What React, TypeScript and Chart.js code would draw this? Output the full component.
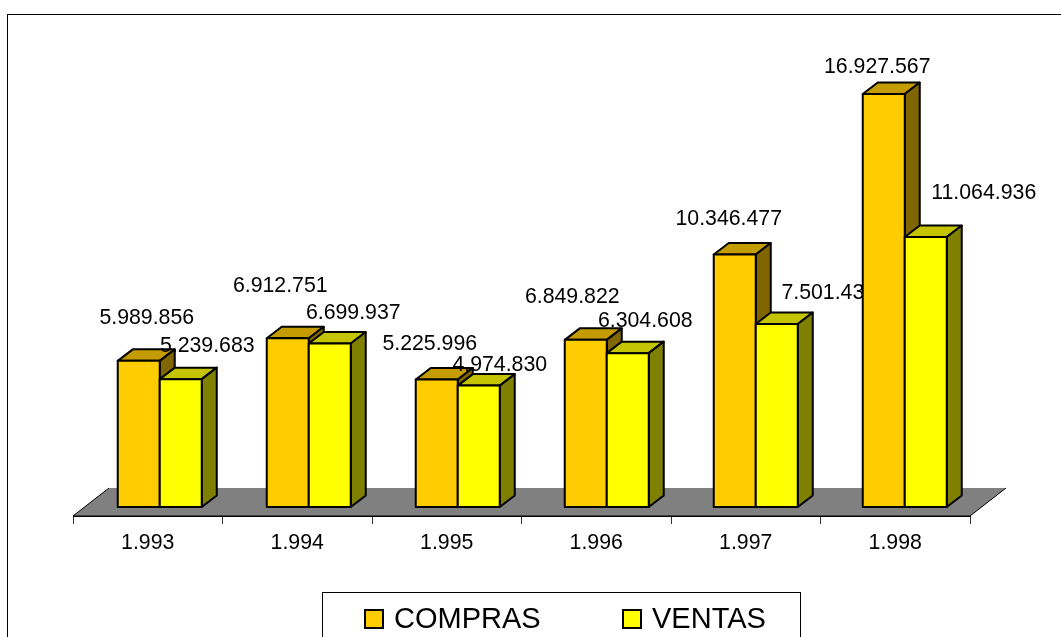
import React, { useEffect, useRef } from "react";
import { Chart, registerables } from "chart.js";

Chart.register(...registerables);

const categories = ["1.993", "1.994", "1.995", "1.996", "1.997", "1.998"];
const compras = [5989856, 6912751, 5225996, 6849822, 10346477, 16927567];
const ventas = [5239683, 6699937, 4974830, 6304608, 7501437, 11064936];

// Hand-placed data label offsets in the source (dx from bar centre, dy from bar top)
const comprasLabelDx = [8, -7.5, -7, -13.5, -6, -6.5];
const comprasLabelDy = [-43, -52, -35, -43, -35, -27];
const ventasLabelDx = [26.5, 23.5, 21, 17.5, 52, 58];
const ventasLabelDy = [-33, -30, -20, -32, -31, -44];

const FONT = '"Liberation Sans", Arial, sans-serif';
const DEPTH_X = 15;
const DEPTH_Y = 11.5;
const barShift = (i: number) => 12 - 0.5 * i;

const palette = [
  { front: "#FFCC00", top: "#C49C00", side: "#806600" },
  { front: "#FFFF00", top: "#C4C400", side: "#808000" },
];

const fmt = (v: number) => String(v).replace(/\B(?=(\d{3})+(?!\d))/g, ".");

const poly = (ctx: CanvasRenderingContext2D, pts: number[][], fill: string) => {
  ctx.beginPath();
  pts.forEach((p, i) => (i ? ctx.lineTo(p[0], p[1]) : ctx.moveTo(p[0], p[1])));
  ctx.closePath();
  ctx.fillStyle = fill;
  ctx.fill();
  ctx.stroke();
};

const scene3d = {
  id: "scene3d",
  beforeDraw(chart: any) {
    const { ctx } = chart;
    ctx.save();
    ctx.fillStyle = "#fff";
    ctx.fillRect(0, 0, chart.width, chart.height);
    ctx.strokeStyle = "#000";
    ctx.lineWidth = 1;
    ctx.strokeRect(7.5, 14.5, 1200, 800);
    ctx.restore();
  },
  beforeDatasetsDraw(chart: any) {
    const { ctx, chartArea } = chart;
    const { left, right, bottom } = chartArea;
    const dx = 36;
    const dy = 28;
    ctx.save();
    ctx.lineJoin = "round";
    ctx.strokeStyle = "#000";
    ctx.lineWidth = 1;
    ctx.beginPath();
    ctx.moveTo(left, bottom);
    ctx.lineTo(right, bottom);
    ctx.lineTo(right + dx, bottom - dy);
    ctx.lineTo(left + dx, bottom - dy);
    ctx.closePath();
    ctx.fillStyle = "#808080";
    ctx.fill();
    ctx.beginPath();
    ctx.moveTo(left + dx, bottom - dy);
    ctx.lineTo(left, bottom);
    ctx.lineTo(right, bottom);
    ctx.lineTo(right + dx, bottom - dy);
    ctx.stroke();

    const metas = [chart.getDatasetMeta(0), chart.getDatasetMeta(1)];
    ctx.font = `21.3px ${FONT}`;
    ctx.textAlign = "center";
    ctx.textBaseline = "middle";
    categories.forEach((_, i) => {
      const shift = barShift(i);
      metas.forEach((meta, d) => {
        const el = meta.data[i];
        const c = palette[d];
        const w = el.width;
        const x0 = el.x - w / 2 + shift;
        const x1 = x0 + w;
        const yT = el.y;
        const yB = el.base;
        ctx.lineWidth = 2;
        ctx.strokeStyle = "#000";
        poly(ctx, [[x0, yT], [x1, yT], [x1 + DEPTH_X, yT - DEPTH_Y], [x0 + DEPTH_X, yT - DEPTH_Y]], c.top);
        poly(ctx, [[x1, yT], [x1 + DEPTH_X, yT - DEPTH_Y], [x1 + DEPTH_X, yB - DEPTH_Y], [x1, yB]], c.side);
        ctx.save();
        ctx.translate(shift, 0);
        el.draw(ctx);
        ctx.restore();
        ctx.strokeRect(x0, yT, w, yB - yT);
      });
      metas.forEach((meta, d) => {
        const el = meta.data[i];
        const vals = d === 0 ? compras : ventas;
        const lx = d === 0 ? comprasLabelDx[i] : ventasLabelDx[i];
        const ly = d === 0 ? comprasLabelDy[i] : ventasLabelDy[i];
        ctx.fillStyle = "#000";
        ctx.fillText(fmt(vals[i]), el.x + shift + lx, el.y + ly);
      });
    });
    ctx.restore();
    return false;
  },
  afterDraw(chart: any) {
    const { ctx } = chart;
    ctx.save();
    ctx.strokeStyle = "#000";
    ctx.lineWidth = 1;
    ctx.strokeRect(322.5, 592.5, 478, 100);
    ctx.font = `29px ${FONT}`;
    ctx.textAlign = "left";
    ctx.textBaseline = "middle";
    const keyX = [365, 623];
    chart.data.datasets.forEach((ds: any, d: number) => {
      ctx.fillStyle = palette[d].front;
      ctx.lineWidth = 2;
      ctx.fillRect(keyX[d], 610, 18, 18);
      ctx.strokeRect(keyX[d], 610, 18, 18);
      ctx.fillStyle = "#000";
      ctx.fillText(ds.label, keyX[d] + 29, 620);
    });
    ctx.restore();
  },
};

export default function App() {
  const ref = useRef<HTMLCanvasElement>(null);
  useEffect(() => {
    const chart = new Chart(ref.current!, {
      type: "bar",
      data: {
        labels: categories,
        datasets: [
          { label: "COMPRAS", data: compras, backgroundColor: palette[0].front, borderWidth: 0 },
          { label: "VENTAS", data: ventas, backgroundColor: palette[1].front, borderWidth: 0 },
        ],
      },
      plugins: [scene3d],
      options: {
        animation: false,
        responsive: false,
        layout: { padding: { left: 73, right: 91, top: 10, bottom: 0 } },
        plugins: { legend: { display: false }, tooltip: { enabled: false } },
        datasets: { bar: { categoryPercentage: 0.5619, barPercentage: 1 } },
        scales: {
          x: {
            afterFit: (s: any) => {
              s.height = 121;
            },
            grid: { drawOnChartArea: false, tickLength: 8, color: "#000", tickColor: "#333" },
            border: { display: true, color: "#000" },
            ticks: { color: "#000", font: { family: FONT, size: 21.3 }, padding: 6, maxRotation: 0 },
          },
          y: { display: false, min: -370000, max: 20370000 },
        },
      },
    } as any);
    return () => chart.destroy();
  }, []);
  return (
    <canvas
      ref={ref}
      width={1061}
      height={637}
      style={{ position: "fixed", left: 0, top: 0, width: 1061, height: 637, display: "block" }}
    />
  );
}
